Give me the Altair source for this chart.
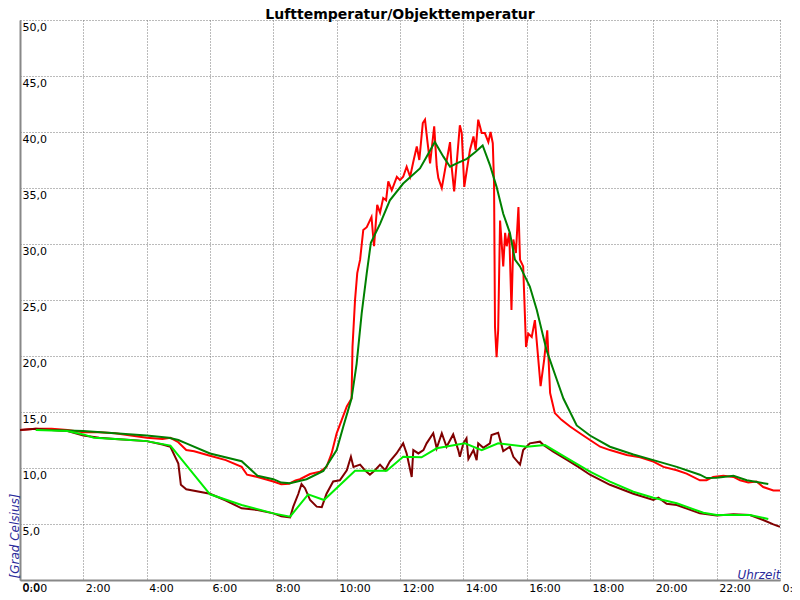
import altair as alt
import pandas as pd

TITLE = "Lufttemperatur/Objekttemperatur"
X_TITLE = "Uhrzeit"
Y_TITLE = "[Grad Celsius]"
X_TICKS = list(range(0, 25, 2))
Y_TICKS = list(range(0, 55, 5))

# Lufttemperatur (red, raw)
air_t = [0.0, 0.5, 1.0, 1.5, 2.0, 2.5, 3.0, 3.5, 4.0, 4.5, 4.75, 5.0, 5.25, 5.5, 6.0, 6.5, 7.0, 7.17, 7.5,
         8.0, 8.25, 8.5, 8.7, 8.84, 9.16, 9.47, 9.68, 9.84, 10.0, 10.16, 10.32, 10.47, 10.5, 10.58, 10.65,
         10.74, 10.84, 10.95, 11.1, 11.18, 11.28, 11.37, 11.47, 11.56, 11.63, 11.74, 11.9, 12.0, 12.1, 12.21,
         12.32, 12.42, 12.53, 12.61, 12.72, 12.79, 12.86, 12.95, 13.08, 13.16, 13.21, 13.32, 13.42, 13.58,
         13.63, 13.71, 13.79, 13.89, 13.95, 14.03, 14.11, 14.21, 14.32, 14.39, 14.47, 14.58, 14.68, 14.79,
         14.86, 14.93, 14.97, 15.0, 15.05, 15.1, 15.16, 15.21, 15.26, 15.32, 15.37, 15.45, 15.52, 15.58,
         15.66, 15.74, 15.79, 15.89, 15.98, 16.05, 16.16, 16.26, 16.37, 16.44, 16.55, 16.65, 16.74, 16.79,
         16.89, 17.1, 17.37, 17.68, 18.0, 18.32, 18.63, 19.16, 19.58, 20.0, 20.32, 20.74, 21.05, 21.47,
         21.68, 21.89, 22.21, 22.53, 22.74, 23.0, 23.26, 23.47, 23.79, 24.0]
air_v = [13.4, 13.5, 13.5, 13.4, 13.2, 13.2, 13.1, 12.9, 12.7, 12.6, 12.7, 12.3, 11.6, 11.5, 11.1, 10.7, 10.1, 9.4, 9.2,
         8.8, 8.55, 8.6, 8.9, 9.0, 9.46, 9.67, 10.1, 11.3, 13.1, 14.3, 15.5, 16.2, 20.8, 25.0, 27.4,
         28.6, 31.25, 31.5, 32.4, 29.8, 33.5, 32.8, 34.1, 33.9, 35.6, 34.8, 36.0, 35.7, 36.0, 36.9,
         36.0, 37.35, 38.7, 37.5, 40.8, 41.1, 39.3, 37.2, 40.5, 36.9, 35.9, 35.0, 36.6, 39.1,
         36.9, 34.7, 37.2, 40.6, 39.9, 35.1, 36.6, 38.4, 39.6, 38.4, 41.1, 39.9, 39.9, 39.1,
         40.0, 39.0, 35.4, 22.6, 19.9, 22.3, 32.1, 30.1, 28.0, 31.0, 29.8, 31.0, 24.1, 30.4,
         29.2, 33.3, 28.6, 28.0, 20.8, 22.0, 21.7, 23.2, 19.6, 17.3, 19.6, 22.3, 16.7, 16.1,
         14.9, 14.3, 13.7, 13.1, 12.5, 11.9, 11.6, 11.16, 10.95, 10.57, 10.1, 9.8, 9.5, 8.9,
         8.9, 9.2, 9.3, 9.2, 8.9, 8.7, 8.8, 8.3, 8.0, 8.0]

# Lufttemperatur (dark green, smoothed)
air_s_t = [0.5, 1.0, 2.0, 3.0, 4.0, 4.7, 5.0, 5.25, 6.0, 7.0, 7.5, 8.0, 8.25, 8.53, 9.05, 9.58, 10.0, 10.21,
           10.47, 10.63, 10.79, 10.95, 11.08, 11.37, 11.68, 12.1, 12.32, 12.63, 12.84, 13.1, 13.37, 13.58,
           13.79, 14.11, 14.37, 14.61, 14.84, 15.05, 15.26, 15.47, 15.63, 15.79, 16.1, 16.32, 16.63, 16.95,
           17.16, 17.58, 18.0, 18.63, 19.37, 20.0, 20.74, 21.47, 21.68, 22.0, 22.53, 22.95, 23.63]
air_s_v = [13.4, 13.4, 13.3, 13.1, 12.9, 12.7, 12.5, 12.2, 11.3, 10.6, 9.3, 9.0, 8.7, 8.63, 9.0, 9.73, 11.6, 13.7,
           16.2, 19.3, 23.8, 27.4, 30.1, 31.8, 33.9, 35.4, 35.95, 36.75, 37.8, 39.1, 37.8, 36.9,
           37.2, 37.6, 38.2, 38.8, 37.05, 35.1, 32.7, 31.0, 28.6, 28.0, 26.2, 24.1, 20.5, 17.9,
           16.2, 13.8, 12.9, 11.9, 11.2, 10.7, 10.1, 9.4, 9.1, 9.14, 9.3, 8.9, 8.57]

# Objekttemperatur (maroon, raw)
obj_t = [0.0, 0.5, 1.0, 1.5, 2.0, 2.5, 3.0, 3.5, 4.0, 4.5, 4.75, 5.0, 5.08, 5.25, 6.0, 6.5, 7.0, 7.5, 8.0,
         8.25, 8.53, 8.63, 8.79, 8.89, 9.0, 9.16, 9.37, 9.53, 9.68, 9.89, 10.1, 10.32, 10.45, 10.53, 10.74,
         10.89, 11.05, 11.21, 11.37, 11.53, 11.68, 11.89, 12.1, 12.21, 12.37, 12.42, 12.58, 12.74, 12.84,
         13.05, 13.16, 13.32, 13.47, 13.68, 13.84, 13.89, 14.0, 14.1, 14.16, 14.32, 14.42, 14.47, 14.63,
         14.84, 14.89, 15.1, 15.26, 15.47, 15.58, 15.79, 15.89, 16.1, 16.42, 16.53, 16.84, 17.26, 17.63,
         18.0, 18.63, 19.37, 20.0, 20.16, 20.42, 20.74, 21.47, 22.0, 22.53, 23.05, 23.47, 23.79, 24.0]
obj_v = [13.4, 13.5, 13.4, 13.3, 12.9, 12.7, 12.6, 12.5, 12.4, 12.1, 11.9, 10.4, 8.5, 8.1, 7.7, 7.1, 6.4, 6.25, 5.95,
         5.7, 5.6, 6.55, 7.7, 8.57, 8.2, 7.14, 6.55, 6.5, 7.7, 8.8, 8.9, 9.8, 11.0, 10.1, 10.3,
         9.8, 9.4, 9.8, 10.3, 9.8, 10.6, 11.3, 12.2, 11.3, 9.2, 11.6, 11.3, 11.6, 12.2,
         13.1, 11.76, 13.1, 11.9, 13.0, 11.6, 11.0, 12.2, 12.65, 10.8, 11.6, 10.7, 12.2, 11.8,
         12.2, 12.95, 13.15, 11.5, 11.9, 11.0, 10.3, 11.6, 12.2, 12.35, 12.05, 11.46, 10.75, 10.1,
         9.4, 8.5, 7.7, 7.14, 7.35, 6.8, 6.7, 5.95, 5.75, 5.87, 5.8, 5.36, 4.97, 4.76]

# Objekttemperatur (light green, smoothed)
obj_s_t = [0.5, 1.5, 2.0, 2.33, 3.0, 4.0, 4.75, 6.0, 7.0, 8.0, 8.53, 9.1, 9.6, 10.58, 11.58, 12.1, 12.68, 13.16,
           14.05, 14.58, 15.1, 16.0, 16.58, 17.26, 18.0, 18.63, 19.37, 20.0, 20.74, 21.58, 22.0, 23.05, 23.63]
obj_s_v = [13.4, 13.3, 13.0, 12.7, 12.6, 12.4, 12.0, 7.65, 6.7, 5.95, 5.66, 7.65, 7.14, 9.76, 9.76, 11.0, 10.95, 11.76,
           12.2, 11.6, 12.2, 11.9, 12.05, 10.9, 9.67, 8.78, 7.88, 7.35, 6.85, 6.0, 5.8, 5.8, 5.45]

SERIES = [
    ("air", air_t, air_v, "#ff0000"),
    ("air_s", air_s_t, air_s_v, "#008000"),
    ("obj", obj_t, obj_v, "#800000"),
    ("obj_s", obj_s_t, obj_s_v, "#00ee00"),
]

frames = []
for name, t, v, _ in SERIES:
    frames.append(pd.DataFrame({"h": t, "temp": v, "series": name}))
df = pd.concat(frames, ignore_index=True)

FONT = "DejaVu Sans"
TITLE_COLOR = "#2a2a9a"
GRID_COLOR = "#777777"

x_axis = alt.Axis(
    values=X_TICKS, labelExpr="(datum.value % 24) + ':00'",
    grid=True, gridDash=[1, 2], gridColor=GRID_COLOR, gridWidth=1,
    domain=True, domainColor="#888888", domainWidth=2,
    ticks=False, tickSize=0,
    labelAlign="left", labelBaseline="top", labelPadding=2, labelOffset=2,
    labelFont=FONT, labelFontSize=11, labelColor="black",
    labelFlush=False, labelOverlap=False, labelBound=False,
    title=X_TITLE, titleFont=FONT, titleFontSize=12, titleFontStyle="italic",
    titleFontWeight="normal", titleColor=TITLE_COLOR,
    titleX=760, titleY=-2, titleAlign="right", titleBaseline="alphabetic",
)
y_axis = alt.Axis(
    values=Y_TICKS, labelExpr="replace(format(datum.value, '.1f'), '.', ',')",
    grid=True, gridDash=[1, 2], gridColor=GRID_COLOR, gridWidth=1,
    domain=True, domainColor="#888888", domainWidth=2,
    ticks=False, tickSize=0,
    labelAlign="left", labelBaseline="top", labelPadding=-2, labelOffset=1,
    labelFont=FONT, labelFontSize=11, labelColor="black",
    labelFlush=False, labelOverlap=False, labelBound=False,
    title=Y_TITLE, titleFont=FONT, titleFontSize=12, titleFontStyle="italic",
    titleFontWeight="normal", titleColor=TITLE_COLOR,
    titleAngle=270, titleX=-6, titleY=558, titleAlign="left", titleBaseline="middle",
)

base = alt.Chart(df).encode(
    x=alt.X("h:Q", scale=alt.Scale(domain=[0, 24], nice=False, zero=False), axis=x_axis),
    y=alt.Y("temp:Q", scale=alt.Scale(domain=[0, 50], nice=False, zero=False), axis=y_axis),
)

layers = []
for name, _, _, color in SERIES:
    layers.append(
        base.transform_filter(alt.datum.series == name)
        .mark_line(color=color, strokeWidth=2, interpolate="linear", clip=True)
    )

title_df = pd.DataFrame({"label": [TITLE]})
title_layer = alt.Chart(title_df).mark_text(
    font=FONT, fontSize=14, fontWeight="bold", align="center", baseline="alphabetic", color="black"
).encode(text="label:N", x=alt.value(380), y=alt.value(-1))

chart = alt.layer(*layers, title_layer).properties(
    width=760, height=560,
    autosize=alt.AutoSizeParams(type="none"),
    padding={"left": 12, "top": 12, "right": 12, "bottom": 18},
).configure_view(stroke=None)

chart.save("out.html", embed_options={"renderer": "svg", "actions": False})
